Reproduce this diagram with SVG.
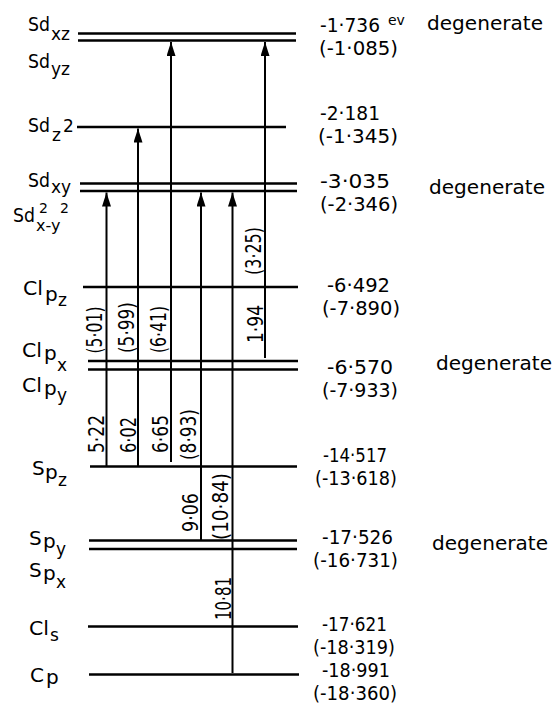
<svg xmlns="http://www.w3.org/2000/svg" width="559" height="707" viewBox="0 0 559 707">
<style>
text{font-family:"DejaVu Sans","Liberation Sans",sans-serif;fill:#000}
.lb{font-size:20px}
.sb{font-size:17px}
.sp{font-size:14px}
.v{font-size:19px}
.dg{font-size:20px}
.ev{font-size:14px}
.r{font-size:21px;text-anchor:middle}
.lv{stroke:#000;stroke-width:2.5;fill:none}
.ar{stroke:#000;stroke-width:2;fill:none;marker-end:url(#ah)}
</style>
<defs>
<marker id="ah" markerUnits="userSpaceOnUse" markerWidth="14" markerHeight="9" refX="14" refY="4.5" orient="auto">
<path d="M0,0 L14,4.5 L0,9 Z" fill="#000"/>
</marker>
</defs>
<rect width="559" height="707" fill="#fff"/>

<g id="Sd_xz">
<line class="lv" x1="78" y1="33.5" x2="296" y2="33.5"/>
<line class="lv" x1="78" y1="40.5" x2="296" y2="40.5"/>
<text class="lb" x="28" y="31" textLength="22" lengthAdjust="spacingAndGlyphs">Sd</text>
<text class="sb" x="51" y="40">xz</text>
<text class="lb" x="28" y="68" textLength="22" lengthAdjust="spacingAndGlyphs">Sd</text>
<text class="sb" x="51" y="75">yz</text>
<text class="v" x="320" y="32" textLength="60" lengthAdjust="spacingAndGlyphs">-1·736</text>
<text class="ev" x="388" y="25">ev</text>
<text class="dg" x="427" y="30" textLength="116" lengthAdjust="spacingAndGlyphs">degenerate</text>
<text class="v" x="319" y="55" textLength="79" lengthAdjust="spacingAndGlyphs">(-1·085)</text>
</g>

<g id="Sd_z2">
<line class="lv" x1="77" y1="127" x2="286" y2="127"/>
<text class="lb" x="28" y="132" textLength="22" lengthAdjust="spacingAndGlyphs">Sd</text>
<text class="sb" x="52" y="141">z</text>
<text class="sb" x="63" y="132">2</text>
<text class="v" x="320" y="120" textLength="60" lengthAdjust="spacingAndGlyphs">-2·181</text>
<text class="v" x="318" y="143" textLength="80" lengthAdjust="spacingAndGlyphs">(-1·345)</text>
</g>

<g id="Sd_xy">
<line class="lv" x1="80" y1="183.5" x2="297" y2="183.5"/>
<line class="lv" x1="80" y1="191" x2="297" y2="191"/>
<text class="lb" x="28" y="187" textLength="22" lengthAdjust="spacingAndGlyphs">Sd</text>
<text class="sb" x="51" y="193">xy</text>
<text class="lb" x="13" y="222" textLength="22" lengthAdjust="spacingAndGlyphs">Sd</text>
<text class="sb" x="36" y="231" style="font-size:16px">x-y</text>
<text class="sp" x="39" y="213">2</text>
<text class="sp" x="60" y="213">2</text>
<text class="v" x="320" y="188" textLength="70" lengthAdjust="spacingAndGlyphs">-3·035</text>
<text class="v" x="320" y="211" textLength="78" lengthAdjust="spacingAndGlyphs">(-2·346)</text>
<text class="dg" x="429" y="194" textLength="116" lengthAdjust="spacingAndGlyphs">degenerate</text>
</g>

<g id="Cl_pz">
<line class="lv" x1="83" y1="287" x2="298" y2="287"/>
<text class="lb" x="23" y="295" textLength="20" lengthAdjust="spacingAndGlyphs">Cl</text>
<text class="lb" x="45" y="301">p</text>
<text class="sb" x="58" y="306">z</text>
<text class="v" x="327" y="292" textLength="63" lengthAdjust="spacingAndGlyphs">-6·492</text>
<text class="v" x="322" y="315" textLength="78" lengthAdjust="spacingAndGlyphs">(-7·890)</text>
</g>

<g id="Cl_px">
<line class="lv" x1="88" y1="361" x2="298" y2="361"/>
<line class="lv" x1="88" y1="369.5" x2="298" y2="369.5"/>
<text class="lb" x="22" y="357" textLength="20" lengthAdjust="spacingAndGlyphs">Cl</text>
<text class="lb" x="44" y="360">p</text>
<text class="sb" x="57" y="371">x</text>
<text class="lb" x="22" y="392" textLength="20" lengthAdjust="spacingAndGlyphs">Cl</text>
<text class="lb" x="44" y="395">p</text>
<text class="sb" x="57" y="401">y</text>
<text class="v" x="327" y="374" textLength="66" lengthAdjust="spacingAndGlyphs">-6·570</text>
<text class="v" x="322" y="397" textLength="76" lengthAdjust="spacingAndGlyphs">(-7·933)</text>
<text class="dg" x="436" y="370" textLength="116" lengthAdjust="spacingAndGlyphs">degenerate</text>
</g>

<g id="Sp_z">
<line class="lv" x1="90" y1="466.5" x2="297" y2="466.5"/>
<text class="lb" x="32" y="475">S</text>
<text class="lb" x="45" y="479">p</text>
<text class="sb" x="58" y="486">z</text>
<text class="v" x="323" y="462" textLength="64" lengthAdjust="spacingAndGlyphs">-14·517</text>
<text class="v" x="315" y="485" textLength="82" lengthAdjust="spacingAndGlyphs">(-13·618)</text>
</g>

<g id="Sp_y">
<line class="lv" x1="89" y1="540.5" x2="297" y2="540.5"/>
<line class="lv" x1="89" y1="549" x2="297" y2="549"/>
<text class="lb" x="29" y="545">S</text>
<text class="lb" x="43" y="548">p</text>
<text class="sb" x="56" y="555">y</text>
<text class="lb" x="29" y="577">S</text>
<text class="lb" x="43" y="580">p</text>
<text class="sb" x="56" y="588">x</text>
<text class="v" x="322" y="544" textLength="71" lengthAdjust="spacingAndGlyphs">-17·526</text>
<text class="v" x="313" y="567" textLength="85" lengthAdjust="spacingAndGlyphs">(-16·731)</text>
<text class="dg" x="432" y="550" textLength="116" lengthAdjust="spacingAndGlyphs">degenerate</text>
</g>

<g id="Cl_s">
<line class="lv" x1="88" y1="626.5" x2="298" y2="626.5"/>
<text class="lb" x="29" y="635" textLength="20" lengthAdjust="spacingAndGlyphs">Cl</text>
<text class="sb" x="50" y="641">s</text>
<text class="v" x="322" y="631" textLength="65" lengthAdjust="spacingAndGlyphs">-17·621</text>
<text class="v" x="313" y="654" textLength="82" lengthAdjust="spacingAndGlyphs">(-18·319)</text>
</g>

<g id="C_p">
<line class="lv" x1="89" y1="674.5" x2="299" y2="674.5"/>
<text class="lb" x="30" y="682">C</text>
<text class="lb" x="46" y="684">p</text>
<text class="v" x="322" y="677" textLength="68" lengthAdjust="spacingAndGlyphs">-18·991</text>
<text class="v" x="313" y="700" textLength="84" lengthAdjust="spacingAndGlyphs">(-18·360)</text>
</g>

<g id="connectors">
<line class="ar" x1="106.5" y1="466" x2="106.5" y2="192.5"/>
<line class="ar" x1="138" y1="466" x2="138" y2="128.5"/>
<line class="ar" x1="171" y1="462" x2="171" y2="42"/>
<line class="ar" x1="201" y1="540" x2="201" y2="192.5"/>
<line class="ar" x1="232.5" y1="673" x2="232.5" y2="192.5"/>
<line class="ar" x1="265" y1="358" x2="265" y2="42"/>
<text class="r" transform="translate(101.5,330) rotate(-90)" textLength="47" lengthAdjust="spacingAndGlyphs">(5·01)</text>
<text class="r" transform="translate(133.5,327.5) rotate(-90)" textLength="51" lengthAdjust="spacingAndGlyphs">(5·99)</text>
<text class="r" transform="translate(166,329.5) rotate(-90)" textLength="47" lengthAdjust="spacingAndGlyphs">(6·41)</text>
<text class="r" transform="translate(261,251) rotate(-90)" textLength="48" lengthAdjust="spacingAndGlyphs">(3·25)</text>
<text class="r" transform="translate(262.5,324) rotate(-90)" textLength="38" lengthAdjust="spacingAndGlyphs">1·94</text>
<text class="r" transform="translate(103.5,434) rotate(-90)" textLength="38" lengthAdjust="spacingAndGlyphs">5·22</text>
<text class="r" transform="translate(135.5,435) rotate(-90)" textLength="36" lengthAdjust="spacingAndGlyphs">6·02</text>
<text class="r" transform="translate(167.5,434) rotate(-90)" textLength="38" lengthAdjust="spacingAndGlyphs">6·65</text>
<text class="r" transform="translate(195.5,434.5) rotate(-90)" textLength="51" lengthAdjust="spacingAndGlyphs">(8·93)</text>
<text class="r" transform="translate(197.5,512.5) rotate(-90)" textLength="39" lengthAdjust="spacingAndGlyphs">9·06</text>
<text class="r" transform="translate(227.5,506.5) rotate(-90)" textLength="67" lengthAdjust="spacingAndGlyphs">(10·84)</text>
<text class="r" transform="translate(230.5,598.5) rotate(-90)" textLength="43" lengthAdjust="spacingAndGlyphs">10·81</text>
</g>
</svg>
